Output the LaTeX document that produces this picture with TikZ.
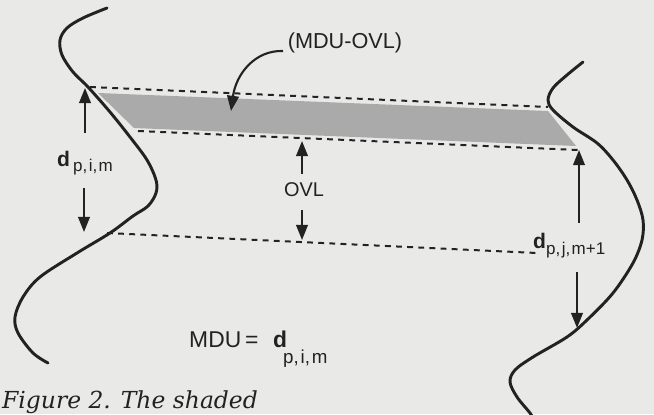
\documentclass[tikz,border=0pt]{standalone}
\usepackage{fontspec}
\setmainfont{Liberation Serif}
\setsansfont{Liberation Sans}
\newfontfamily\capfont{DejaVu Serif}
\usetikzlibrary{arrows.meta}

\definecolor{paper}{RGB}{233,233,231}
\definecolor{ink}{RGB}{34,34,34}
\definecolor{bandgray}{RGB}{170,170,170}

\begin{document}
\begin{tikzpicture}[x=0.03cm, y=-0.03cm,
  curve/.style={ink, line width=2.5pt, line cap=round, line join=round},
  guide/.style={ink, line width=1.7pt, dash pattern=on 5pt off 4.5pt},
  pointer/.style={ink, line width=1.8pt, -{Triangle[length=13pt, width=10pt]}},
  lbl/.style={font=\sffamily\fontsize{18.5}{21}\selectfont, text=ink, inner sep=0pt},
  dsym/.style={font=\sffamily\bfseries\fontsize{18}{21}\selectfont, text=ink, inner sep=0pt},
  dsub/.style={font=\sffamily\fontsize{14.5}{17}\selectfont, text=ink, inner sep=0pt},
]
% page
\fill[paper] (0,0) rectangle (654,414);
\useasboundingbox (0,0) rectangle (654,414);

% shaded overlap band
\fill[bandgray] (98,93) -- (548,111) -- (576,146) -- (134,128) -- cycle;

% dashed level lines
\coordinate (t1) at (90,87);   \coordinate (t2) at (548,107);
\coordinate (m1) at (138,131); \coordinate (m2) at (578,150);
\coordinate (b1) at (107,233); \coordinate (b2) at (537,253);
\draw[guide] (t1) -- (t2);
\draw[guide] (m1) -- (m2);
\draw[guide] (b1) -- (b2);

% left trace
\draw[curve] plot[smooth, tension=0.55] coordinates {
  (107,8) (83,18) (67,28) (60,40) (62,55) (73,72) (88,87) (110,112)
  (130,137) (147,160) (156,180) (156,193) (148,206) (133,216) (110,233)
  (77,253) (40,277) (23,297) (15,317) (18,333) (33,353) (48,363)};

% right trace
\draw[curve] plot[smooth, tension=0.55] coordinates {
  (583,62) (567,75) (553,88) (548,100) (553,110) (573,127) (597,143)
  (613,160) (627,180) (637,200) (643,220) (642,240) (633,263) (613,293)
  (587,320) (567,337) (533,357) (515,370) (510,382) (517,397) (530,413) (534,420)};

% labels
\node[lbl] (mduovl) at (345,43) {(MDU-OVL)};
\node[lbl, font=\sffamily\fontsize{17}{20}\selectfont] (ovl) at (304,190) {OVL};

\node[dsym, anchor=base west] (d1) at (57,166) {d};
\node[dsub, anchor=base west] (d1s) at (73,171) {p,\kern1.2pt i,\kern1.2pt m};

\node[dsym, anchor=base west] (d2) at (533,248) {d};
\node[dsub, anchor=base west] (d2s) at (546,254) {p,\kern1.2pt j,\kern1.2pt m+1};

\node[lbl, font=\sffamily\fontsize{19.5}{22}\selectfont, anchor=base west] (mdu) at (189,347) {MDU\,=};
\node[dsym, font=\sffamily\bfseries\fontsize{19.5}{22}\selectfont, anchor=base west] (d3) at (273,347) {d};
\node[dsub, font=\sffamily\fontsize{16}{19}\selectfont, anchor=base west] (d3s) at (283,363) {p,\kern1.5pt i,\kern1.5pt m};

% arrows
\coordinate (a1s) at (85,133); \coordinate (a1e) at (85,88);
\coordinate (a2s) at (84,188); \coordinate (a2e) at (84,232);
\coordinate (o1s) at (302,174); \coordinate (o1e) at (302,141);
\coordinate (o2s) at (302,210); \coordinate (o2e) at (302,240);
\coordinate (r1s) at (579,223); \coordinate (r1e) at (579,150);
\coordinate (r2s) at (577,272); \coordinate (r2e) at (577,328);
\coordinate (c1s) at (283,51);  \coordinate (c1e) at (231,111);

\draw[pointer] (a1s) -- (a1e);
\draw[pointer] (a2s) -- (a2e);
\draw[pointer] (o1s) -- (o1e);
\draw[pointer] (o2s) -- (o2e);
\draw[pointer] (r1s) -- (r1e);
\draw[pointer] (r2s) -- (r2e);
\draw[pointer] (c1s) .. controls (255,50) and (236,74) .. (c1e);

% caption along the lower edge
\node[anchor=base west, inner sep=0pt, text=ink,
      font=\capfont\itshape\fontsize{20}{23}\selectfont] (cap) at (2,408) {Figure 2. The shaded};
\end{tikzpicture}
\end{document}
